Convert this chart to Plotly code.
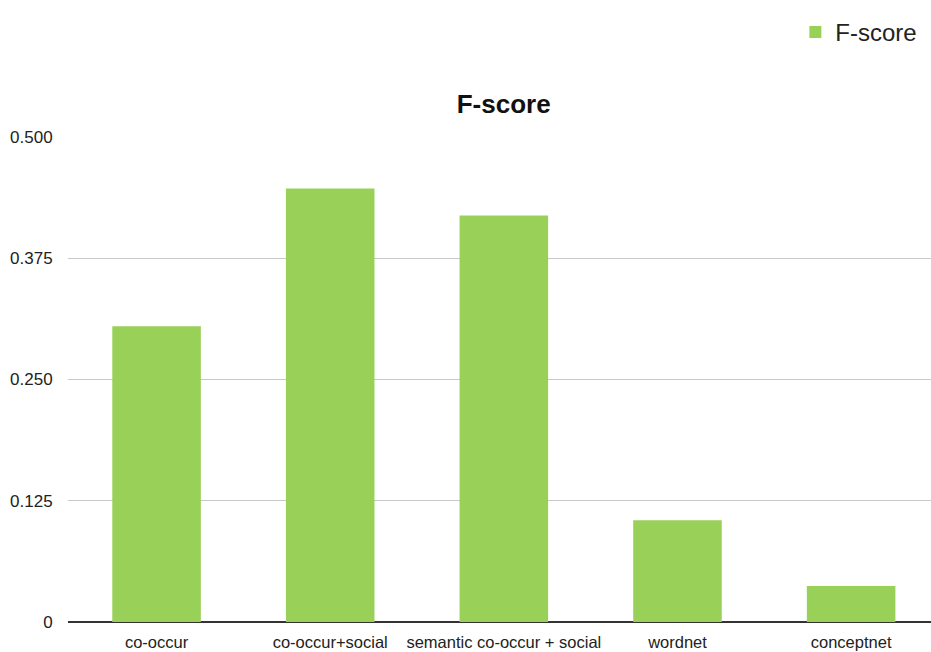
import plotly.graph_objects as go

categories = ["co-occur", "co-occur+social", "semantic co-occur + social", "wordnet", "conceptnet"]
fscore = [0.305, 0.447, 0.419, 0.105, 0.037]
tick_vals = [0, 0.125, 0.25, 0.375, 0.5]
tick_text = ["0", "0.125", "0.250", "0.375", "0.500"]

fig = go.Figure()
fig.add_trace(go.Bar(x=list(range(len(categories))), y=fscore, name="F-score",
                     marker=dict(color="#99D158", line=dict(width=0))))

fig.update_layout(
    width=931, height=652,
    margin=dict(l=68, r=0, t=137, b=30),
    paper_bgcolor="white", plot_bgcolor="white",
    font=dict(family="Liberation Sans, Arial, sans-serif", color="#222"),
    bargap=0.49,
    showlegend=True,
    title=dict(text="<b>F-score</b>", x=0.541, xanchor="center", y=0.84, yanchor="middle",
               font=dict(size=26, color="#111")),
    legend=dict(x=0.99, xanchor="right", y=0.985, yanchor="top", yref="container",
                font=dict(size=24, color="#222"), bgcolor="rgba(0,0,0,0)"),
    xaxis=dict(tickvals=list(range(len(categories))), ticktext=categories,
               range=[-0.51, 4.46], showgrid=False, zeroline=False,
               showline=False, ticks="outside", ticklen=5, tickcolor="white",
               tickfont=dict(size=16.5, color="#222")),
    yaxis=dict(range=[0, 0.5], tickvals=tick_vals, ticktext=tick_text,
               showgrid=True, gridcolor="#c8c8c8", gridwidth=1, zeroline=True,
               zerolinecolor="#333", zerolinewidth=1.5,
               ticks="outside", ticklen=11, tickcolor="white",
               tickfont=dict(size=17, color="#222")),
)
fig.write_html("out.html")
